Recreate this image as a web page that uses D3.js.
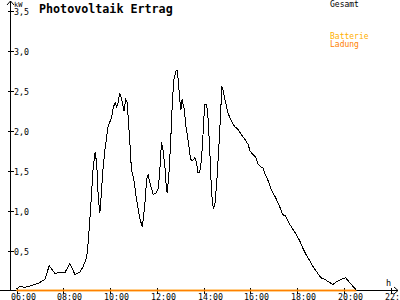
<!DOCTYPE html>
<html>
<head>
<meta charset="utf-8">
<script src="https://cdn.jsdelivr.net/npm/d3@7"></script>
<style>
  body { margin: 0; background: #fff; }
  text { font-family: "DejaVu Sans Mono", monospace; }
</style>
</head>
<body>
<div id="chart"></div>
<script>
// Gesamt (kW) over the day
const times = ["06:00","06:09","06:22","06:35","06:47","07:00","07:13","07:24","07:39","07:51",
  "08:04","08:17","08:30","08:43","08:51","09:00","09:04","09:10","09:17","09:22",
  "09:26","09:30","09:34","09:38","09:41","09:47","09:55","10:04","10:08","10:13",
  "10:17","10:21","10:25","10:30","10:36","10:40","10:44","10:51","10:55","11:01",
  "11:08","11:17","11:23","11:29","11:34","11:38","11:42","11:51","11:58","12:04",
  "12:08","12:12","12:16","12:21","12:25","12:27","12:32","12:36","12:40","12:44",
  "12:49","12:52","12:55","12:59","13:02","13:05","13:10","13:15","13:20","13:27",
  "13:32","13:38","13:42","13:46","13:50","13:55","13:59","14:03","14:08","14:12",
  "14:16","14:20","14:23","14:26","14:30","14:35","14:40","14:44","14:47","14:50",
  "14:55","14:59","15:03","15:09","15:14","15:20","15:29","15:37","15:46","15:54",
  "16:00","16:07","16:14","16:20","16:26","16:33","16:37","16:46","16:54","17:03",
  "17:11","17:17","17:23","17:31","17:41","17:50","17:58","18:07","18:15","18:24",
  "18:33","18:41","18:51","19:01","19:11","19:24","19:32","19:41","19:54","20:05",
  "20:15","20:24","20:32"];
const gesamt = [0.02,0.05,0.04,0.055,0.075,0.10,0.14,0.31,0.21,0.23,
  0.22,0.34,0.20,0.23,0.30,0.41,0.60,1.01,1.55,1.73,
  1.58,1.14,0.97,1.22,1.47,1.76,2.05,2.16,2.28,2.35,
  2.30,2.35,2.47,2.39,2.24,2.39,2.35,1.85,1.51,1.39,
  1.14,0.89,0.80,1.05,1.39,1.45,1.35,1.20,1.22,1.28,
  1.51,1.85,1.76,1.55,1.26,1.22,1.51,1.89,2.35,2.64,
  2.74,2.76,2.64,2.39,2.26,2.39,2.28,2.05,1.89,1.64,
  1.62,1.66,1.60,1.47,1.47,1.64,1.97,2.33,2.33,2.14,
  1.76,1.30,1.08,1.03,1.10,1.43,1.85,2.22,2.55,2.51,
  2.39,2.30,2.22,2.14,2.10,2.05,2.01,1.95,1.89,1.83,
  1.74,1.70,1.67,1.58,1.55,1.53,1.47,1.37,1.26,1.18,
  1.10,1.03,0.95,0.93,0.83,0.76,0.70,0.62,0.53,0.44,
  0.37,0.30,0.23,0.16,0.14,0.10,0.075,0.11,0.14,0.16,
  0.10,0.05,0.01];

// Batterie / Ladung (kW)
const batterieTimes = ["06:00","20:32"];
const batterie = [0,0];
const ladungTimes = ["06:00","20:32"];
const ladung = [0,0];

const xTicks = ["06:00","08:00","10:00","12:00","14:00","16:00","18:00","20:00","22:00"];
const yTicks = [0.5,1.0,1.5,2.0,2.5,3.0,3.5];

const width = 400, height = 300;
const hours = s => { const p = s.split(":"); return +p[0] + p[1] / 60; };

const svg = d3.select("#chart").append("svg")
  .attr("width", width)
  .attr("height", height)
  .style("display", "block");

svg.append("rect").attr("width", width).attr("height", height).attr("fill", "#fff");

const x = d3.scaleLinear().domain([6, 22]).range([16.5, 390.5]);
const y = d3.scaleLinear().domain([0, 3.5]).range([290.5, 10.5]);

const axisX = 10.5, axisY = y(0);

// axes lines + arrows
const axes = svg.append("g").attr("stroke", "#000").attr("fill", "none")
  .attr("shape-rendering", "crispEdges");
axes.append("line").attr("x1", 0).attr("x2", 398).attr("y1", axisY).attr("y2", axisY);
axes.append("line").attr("x1", axisX).attr("x2", axisX).attr("y1", 1).attr("y2", axisY);
svg.append("path").attr("d", `M394,${axisY - 3.5}L398,${axisY}L394,${axisY + 3.5}`)
  .attr("stroke", "#000").attr("fill", "none");
svg.append("path").attr("d", `M${axisX - 3.5},5L${axisX},1L${axisX + 3.5},5`)
  .attr("stroke", "#000").attr("fill", "none");

// x ticks
const xt = svg.append("g");
xTicks.forEach(t => {
  const px = Math.round(x(hours(t))) + 0.5;
  xt.append("line").attr("x1", px).attr("x2", px).attr("y1", axisY - 3).attr("y2", axisY + 3)
    .attr("stroke", "#000").attr("shape-rendering", "crispEdges");
  xt.append("text").attr("x", px - 6.5).attr("y", 299.5)
    .attr("font-size", 8.3).attr("fill", "#000").text(t);
});

// y ticks
const yt = svg.append("g");
yTicks.forEach(v => {
  const py = Math.round(y(v)) + 0.5;
  yt.append("line").attr("x1", axisX - 3).attr("x2", axisX + 3).attr("y1", py).attr("y2", py)
    .attr("stroke", "#000").attr("shape-rendering", "crispEdges");
  yt.append("text").attr("x", 14).attr("y", py + 3)
    .attr("font-size", 8.3).attr("fill", "#000").text(d3.format(".1f")(v).replace(".", ","));
});

svg.append("text").attr("x", 14).attr("y", 6.5).attr("font-size", 7).text("kW");
svg.append("text").attr("x", 386).attr("y", 286).attr("font-size", 8.5).text("h");

// title
svg.append("text").attr("x", 39).attr("y", 13)
  .attr("font-size", 11.7).attr("font-weight", "bold").text("Photovoltaik Ertrag");

// series
const line = d3.line().x(d => x(d[0])).y(d => y(d[1]));

svg.append("path")
  .datum(batterieTimes.map((t, i) => [hours(t), batterie[i]]))
  .attr("d", line).attr("fill", "none").attr("stroke", "#ffb000").attr("stroke-width", 1.5);
svg.append("path")
  .datum(ladungTimes.map((t, i) => [hours(t), ladung[i]]))
  .attr("d", line).attr("fill", "none").attr("stroke", "#ff8000").attr("stroke-width", 1.5);
svg.append("path")
  .datum(times.map((t, i) => [hours(t), gesamt[i]]))
  .attr("d", line).attr("fill", "none").attr("stroke", "#000").attr("stroke-width", 1)
  .attr("shape-rendering", "crispEdges");

// legend
const legend = [["Gesamt", "#000", 7], ["Batterie", "#ffb000", 39], ["Ladung", "#ff8000", 47]];
legend.forEach(l => {
  svg.append("text").attr("x", 330).attr("y", l[2]).attr("font-size", 8)
    .attr("fill", l[1]).text(l[0]);
});
</script>
</body>
</html>
